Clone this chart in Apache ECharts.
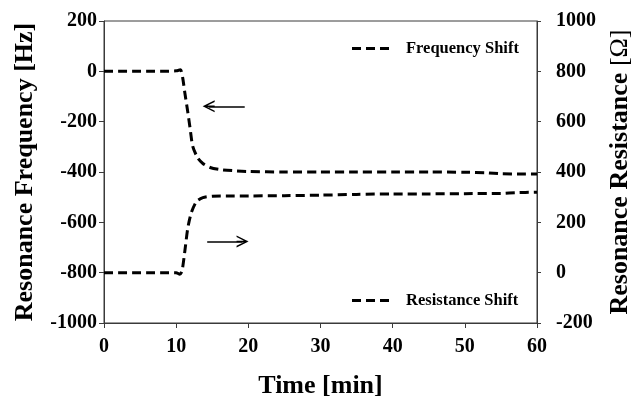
<!DOCTYPE html>
<html>
<head>
<meta charset="utf-8">
<script src="https://cdn.jsdelivr.net/npm/echarts@6/dist/echarts.min.js"></script>
<style>
  html, body { margin: 0; padding: 0; background: #fff; }
  #chart { width: 631px; height: 399px; }
</style>
</head>
<body>
<div id="chart"></div>
<script>
// Time in minutes and the measured shifts
const freqTime = [0, 2, 4, 6, 8, 10, 10.6, 10.9, 11.2, 11.6, 11.9, 12.3, 13.0, 13.7, 14.7, 16, 18, 20, 25, 30, 35, 40, 45, 50, 53, 55, 58, 60];
const freqShift = [0, 0, 0, 0, 0, 2, 6, -25, -85, -160, -220, -298, -345, -366, -382, -390, -395, -398, -400, -400, -400, -400, -400, -401, -403, -407, -408, -408];

const resTime = [0, 2, 4, 6, 8, 10, 10.5, 10.8, 11.2, 11.6, 12.1, 12.8, 13.7, 15, 17, 20, 25, 30, 35, 40, 45, 50, 55, 57, 60];
const resShift = [0, 0, 0, 0, 0, 0, -6, 5, 85, 175, 238, 282, 298, 304, 305, 305, 306, 308, 311, 313, 313, 314, 315, 318, 320];

// Axis ranges and annotation arrows
const xTicks = { min: 0, max: 60, step: 10 };
const freqTicks = { min: -1000, max: 200, step: 200 };
const resTicks = { min: -200, max: 1000, step: 200 };
const freqArrow = { from: 19.5, to: 14.5, level: -139 };
const resArrow = { from: 14.3, to: 19.2, level: 124 };

const serif = 'Liberation Serif';
const axisColor = '#3a3a3a';

// open arrowhead with a short shaft, pointing up
const arrowHead = 'path://M0,0 L6,12 L4.4,12 L0,3.2 L-4.4,12 L-6,12 Z M-0.7,1 L0.7,1 L0.7,12 L-0.7,12 Z';
// three dashes for the legend swatch
const dashIcon = 'path://M0,0 H9 V3 H0 Z M14,0 H23 V3 H14 Z M28,0 H37 V3 H28 Z';

function pairs(xs, ys) { return xs.map((x, i) => [x, ys[i]]); }
const plain = v => String(v);

function arrowLine(a) {
  return {
    silent: true,
    symbol: ['none', arrowHead],
    symbolSize: [12, 12],
    label: { show: false },
    lineStyle: { type: 'solid', width: 1.5, color: '#000' },
    emphasis: { disabled: true },
    data: [[{ coord: [a.from, a.level] }, { coord: [a.to, a.level] }]]
  };
}

function legendAt(name, top) {
  return {
    data: [{ name: name, icon: dashIcon }],
    left: 347, top: top,
    itemWidth: 37, itemHeight: 3,
    itemStyle: { color: '#000', borderWidth: 0 },
    textStyle: { fontFamily: serif, fontWeight: 'bold', fontSize: 16.5, color: '#000', padding: [0, 0, 0, 12] }
  };
}

const dashed = { color: '#000', width: 3, type: [9, 5], cap: 'butt' };
const tickFont = { fontFamily: serif, fontWeight: 'bold', fontSize: 20, color: '#000' };
const titleFont = { fontFamily: serif, fontWeight: 'bold', fontSize: 26, color: '#000' };

const chart = echarts.init(document.getElementById('chart'), null, { renderer: 'canvas' });
chart.setOption({
  animation: false,
  backgroundColor: '#fff',
  grid: {
    left: 104, right: 94, top: 21, bottom: 76,
    containLabel: false,
    outerBoundsMode: 'none',
    show: true, borderColor: axisColor, borderWidth: 1, backgroundColor: 'transparent'
  },
  legend: [legendAt('Frequency Shift', 35), legendAt('Resistance Shift', 287)],
  xAxis: {
    type: 'value',
    min: xTicks.min, max: xTicks.max, interval: xTicks.step,
    name: 'Time [min]',
    nameLocation: 'middle',
    nameGap: 50,
    nameTextStyle: titleFont,
    axisLine: { show: true, onZero: false, lineStyle: { color: axisColor, width: 1 } },
    axisTick: { show: true, inside: false, length: 5, lineStyle: { color: axisColor } },
    axisLabel: Object.assign({ margin: 14, formatter: plain }, tickFont),
    splitLine: { show: false }
  },
  yAxis: [
    {
      type: 'value',
      position: 'left',
      min: freqTicks.min, max: freqTicks.max, interval: freqTicks.step,
      name: 'Resonance Frequency [Hz]',
      nameLocation: 'middle',
      nameGap: 66,
      nameTextStyle: titleFont,
      axisLine: { show: true, onZero: false, lineStyle: { color: axisColor, width: 1 } },
      axisTick: { show: true, inside: false, length: 5, lineStyle: { color: axisColor } },
      axisLabel: Object.assign({ margin: 7, formatter: plain }, tickFont),
      splitLine: { show: false }
    },
    {
      type: 'value',
      position: 'right',
      min: resTicks.min, max: resTicks.max, interval: resTicks.step,
      name: 'Resonance Resistance {n|[Ω]}',
      nameLocation: 'middle',
      nameGap: 70,
      nameTextStyle: Object.assign({
        rich: { n: { fontFamily: serif, fontWeight: 'normal', fontSize: 26, color: '#000' } }
      }, titleFont),
      axisLine: { show: true, onZero: false, lineStyle: { color: axisColor, width: 1 } },
      axisTick: { show: true, inside: false, length: 4, lineStyle: { color: axisColor } },
      axisLabel: Object.assign({ margin: 19, formatter: plain }, tickFont),
      splitLine: { show: false }
    }
  ],
  series: [
    {
      name: 'Frequency Shift',
      type: 'line',
      yAxisIndex: 0,
      symbol: 'none',
      smooth: 0.25,
      lineStyle: dashed,
      itemStyle: { color: '#000' },
      data: pairs(freqTime, freqShift),
      markLine: arrowLine(freqArrow)
    },
    {
      name: 'Resistance Shift',
      type: 'line',
      yAxisIndex: 1,
      symbol: 'none',
      smooth: 0.25,
      lineStyle: dashed,
      itemStyle: { color: '#000' },
      data: pairs(resTime, resShift),
      markLine: arrowLine(resArrow)
    }
  ]
});
</script>
</body>
</html>
